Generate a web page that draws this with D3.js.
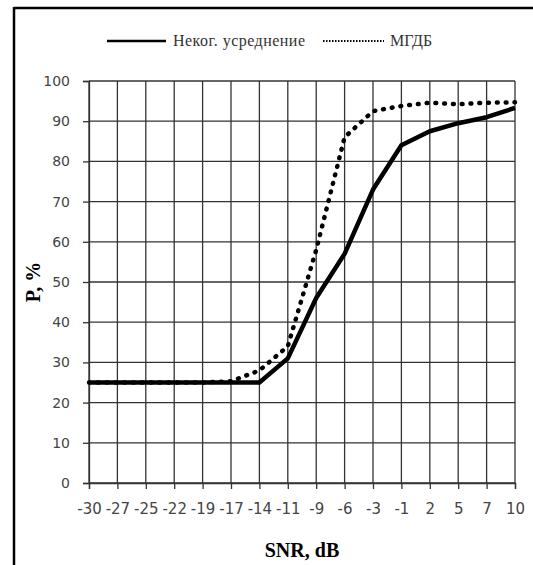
<!DOCTYPE html>
<html>
<head>
<meta charset="utf-8">
<script src="https://cdn.jsdelivr.net/npm/d3@7"></script>
<style>
  body { margin: 0; background: #fff; }
  .tick text { fill: #444; font-family: "DejaVu Sans", sans-serif; }
</style>
</head>
<body>
<div id="chart"></div>
<script>
// SNR categories (x axis labels)
var snr = ["-30", "-27", "-25", "-22", "-19", "-17", "-14", "-11", "-9", "-6", "-3", "-1", "2", "5", "7", "10"];
// Неког. усреднение
var incoherent = [25, 25, 25, 25, 25, 25, 25, 31, 46, 57, 73, 84, 87.5, 89.5, 91, 93.3];
// МГДБ
var mgdb = [25, 25, 25, 25, 25, 25.3, 28, 34, 58, 86, 92.5, 93.8, 94.6, 94.2, 94.6, 94.7];
var yTicks = [0, 10, 20, 30, 40, 50, 60, 70, 80, 90, 100];

var width = 533, height = 565;
var margin = { top: 81, right: 18, bottom: 82, left: 89 };

var svg = d3.select("#chart").append("svg")
    .attr("width", width)
    .attr("height", height);

// frame (only left and top edges are visible)
svg.append("line").attr("x1", 14).attr("x2", 14).attr("y1", 7).attr("y2", height)
    .attr("stroke", "#000").attr("stroke-width", 2.5);
svg.append("line").attr("x1", 14).attr("x2", width).attr("y1", 8).attr("y2", 8)
    .attr("stroke", "#000").attr("stroke-width", 2.5);

var x = d3.scalePoint()
    .domain(snr)
    .range([margin.left, width - margin.right]);

var y = d3.scaleLinear()
    .domain([0, 100])
    .range([height - margin.bottom, margin.top]);

// grid
var grid = svg.append("g").attr("class", "grid");
grid.selectAll("line.h")
    .data(yTicks)
    .enter().append("line")
    .attr("class", "h")
    .attr("x1", x.range()[0]).attr("x2", x.range()[1])
    .attr("y1", function (d) { return y(d); })
    .attr("y2", function (d) { return y(d); })
    .attr("stroke", "#333").attr("stroke-width", 1.3);
grid.selectAll("line.v")
    .data(snr)
    .enter().append("line")
    .attr("class", "v")
    .attr("x1", function (d) { return x(d); })
    .attr("x2", function (d) { return x(d); })
    .attr("y1", y(0)).attr("y2", y(100))
    .attr("stroke", "#333").attr("stroke-width", 1.3);

// axes
var xAxis = svg.append("g")
    .attr("transform", "translate(0," + y(0) + ")")
    .call(d3.axisBottom(x).tickSize(6).tickPadding(20));
xAxis.select(".domain").attr("stroke", "#333").attr("stroke-width", 1.3);
xAxis.selectAll(".tick line").attr("stroke", "#333").attr("stroke-width", 1.3);
xAxis.selectAll(".tick text").style("font-size", "15px").attr("dy", "0.32em");

var yAxis = svg.append("g")
    .attr("transform", "translate(" + x.range()[0] + ",0)")
    .call(d3.axisLeft(y).tickValues(yTicks).tickSize(6).tickPadding(13));
yAxis.select(".domain").attr("stroke", "#333").attr("stroke-width", 1.3);
yAxis.selectAll(".tick line").attr("stroke", "#333").attr("stroke-width", 1.3);
yAxis.selectAll(".tick text").style("font-size", "14px");

// series
var line = d3.line()
    .x(function (d, i) { return x(snr[i]); })
    .y(function (d) { return y(d); });

svg.append("path")
    .datum(mgdb)
    .attr("d", line)
    .attr("fill", "none")
    .attr("stroke", "#000")
    .attr("stroke-width", 4.5)
    .attr("stroke-linecap", "round")
    .attr("stroke-dasharray", "0.8,8");

svg.append("path")
    .datum(incoherent)
    .attr("d", line)
    .attr("fill", "none")
    .attr("stroke", "#000")
    .attr("stroke-width", 4.5)
    .attr("stroke-linejoin", "round");

// axis titles
svg.append("text")
    .attr("x", (x.range()[0] + x.range()[1]) / 2)
    .attr("y", 557)
    .attr("text-anchor", "middle")
    .style("font-family", "Liberation Serif, serif")
    .style("font-weight", "bold")
    .style("font-size", "20px")
    .text("SNR, dB");

svg.append("text")
    .attr("transform", "translate(40," + ((y(0) + y(100)) / 2) + ") rotate(-90)")
    .attr("text-anchor", "middle")
    .style("font-family", "Liberation Serif, serif")
    .style("font-weight", "bold")
    .style("font-size", "20px")
    .text("P, %");

// legend
var legend = svg.append("g").attr("class", "legend");
legend.append("line")
    .attr("x1", 107).attr("x2", 166).attr("y1", 41).attr("y2", 41)
    .attr("stroke", "#000").attr("stroke-width", 2.5);
legend.append("text")
    .attr("x", 173).attr("y", 46)
    .attr("textLength", 132)
    .style("font-family", "Liberation Serif, serif")
    .style("font-size", "16px")
    .attr("fill", "#333")
    .text("Неког. усреднение");
legend.append("line")
    .attr("x1", 323).attr("x2", 384).attr("y1", 41).attr("y2", 41)
    .attr("stroke", "#000").attr("stroke-width", 2)
    .attr("stroke-dasharray", "1.5,1.5");
legend.append("text")
    .attr("x", 390).attr("y", 46)
    .style("font-family", "Liberation Serif, serif")
    .style("font-size", "16px")
    .attr("fill", "#333")
    .text("МГДБ");
</script>
</body>
</html>
